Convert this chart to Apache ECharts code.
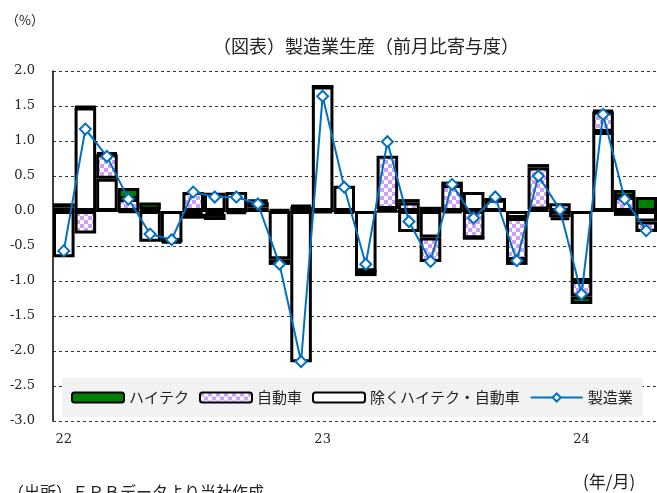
<!DOCTYPE html>
<html><head><meta charset="utf-8">
<script src="https://cdn.jsdelivr.net/npm/echarts@6/dist/echarts.min.js"></script>
<style>html,body{margin:0;padding:0;background:#fff}#c{width:657px;height:493px}</style>
</head><body><div id="c"></div>
<script>
const categories = ['2022/01','2022/02','2022/03','2022/04','2022/05','2022/06','2022/07','2022/08','2022/09','2022/10','2022/11','2022/12',
  '2023/01','2023/02','2023/03','2023/04','2023/05','2023/06','2023/07','2023/08','2023/09','2023/10','2023/11','2023/12',
  '2024/01','2024/02','2024/03','2024/04'];
const yearLabels = ['22','23','24'];
const hitech = [0.06,0.01,0.02,0.16,0.10,-0.03,-0.07,-0.09,-0.03,0.03,0.02,0.02,-0.03,-0.02,-0.07,-0.01,0.05,0.06,0.05,0.00,0.01,-0.07,0.05,-0.04,-0.11,0.02,0.10,0.20];
const auto = [0.05,-0.32,0.35,0.17,0.02,0.00,0.27,-0.04,-0.01,0.08,-0.08,0.06,0.00,-0.01,0.00,0.76,0.12,-0.35,0.37,-0.39,0.00,-0.60,0.60,0.11,-0.22,0.29,0.20,-0.15];
const other = [-0.66,1.48,0.46,-0.02,-0.44,-0.43,-0.04,0.26,0.27,0.05,-0.69,-2.16,1.78,0.36,-0.86,0.03,-0.30,-0.38,-0.03,0.27,0.16,-0.10,0.02,-0.09,-1.00,1.13,-0.07,-0.15];
const total = [-0.57,1.17,0.78,0.17,-0.33,-0.41,0.27,0.20,0.20,0.10,-0.76,-2.15,1.64,0.34,-0.76,0.99,-0.15,-0.72,0.38,-0.10,0.20,-0.71,0.50,0.02,-1.19,1.38,0.17,-0.28];
const yTicks = ['-3.0','-2.5','-2.0','-1.5','-1.0','-0.5','0.0','0.5','1.0','1.5','2.0'];

const pc = document.createElement('canvas');
pc.width = 8; pc.height = 8;
const g = pc.getContext('2d');
g.fillStyle = '#ffffff'; g.fillRect(0,0,8,8);
g.fillStyle = '#cf9ff5'; g.fillRect(0,0,4,4); g.fillRect(4,4,4,4);

const CJK = '"Noto Sans CJK JP", sans-serif';
const SERIF = '"DejaVu Serif", "Liberation Serif", serif';
const chart = echarts.init(document.getElementById('c'), null, {renderer:'canvas'});
const barBase = {type:'bar', stack:'s', barCategoryGap:'0%', barGap:'0%'};
chart.setOption({
  animation:false,
  title:{text:'（図表）製造業生産（前月比寄与度）', left:208, top:32,
    textStyle:{fontFamily:CJK, fontSize:18, fontWeight:'normal', color:'#222'}},
  graphic:[
    {type:'text', left:6, top:14, style:{text:'（%）', font:'13px '+CJK, fill:'#222'}},
    {type:'text', left:583, top:473, style:{text:'(年/月)', font:'17px '+CJK, fill:'#222'}},
    {type:'text', left:8, top:484, style:{text:'（出所）ＦＲＢデータより当社作成', font:'16px '+CJK, fill:'#222'}}
  ],
  legend:{left:62, top:378, padding:[12,10,12,9], backgroundColor:'#f2f2f2',
    itemWidth:52, itemHeight:10, itemGap:10,
    textStyle:{fontFamily:CJK, fontSize:15, color:'#222'},
    data:['ハイテク','自動車','除くハイテク・自動車','製造業']},
  grid:{left:53, right:0, top:71, bottom:72},
  xAxis:{type:'category', data:categories, boundaryGap:true,
    axisLine:{show:false}, axisTick:{show:false},
    axisLabel:{interval:0, margin:12, fontFamily:SERIF, fontSize:13, color:'#222',
      formatter:(v,i)=> (i%12===0 ? yearLabels[i/12] : '')}},
  yAxis:{type:'value', min:-3, max:2, interval:0.5,
    axisLine:{show:true, lineStyle:{color:'#000', width:1.5}},
    axisTick:{show:false},
    axisLabel:{margin:18, fontFamily:SERIF, fontSize:13, color:'#222',
      formatter:(v)=> yTicks[Math.round((v+3)/0.5)]},
    splitLine:{show:true, lineStyle:{color:'#333', width:1, type:[3,3]}}},
  series:[
    Object.assign({}, barBase, {name:'除くハイテク・自動車', data:other,
      itemStyle:{color:'#ffffff', borderColor:'#000', borderWidth:3}}),
    Object.assign({}, barBase, {name:'自動車', data:auto,
      itemStyle:{color:{image:pc, repeat:'repeat'}, borderColor:'#000', borderWidth:3}}),
    Object.assign({}, barBase, {name:'ハイテク', data:hitech,
      itemStyle:{color:'#008000', borderColor:'#000', borderWidth:3}}),
    {name:'製造業', type:'line', data:total, z:5,
      symbol:'diamond', symbolSize:11, showAllSymbol:true,
      lineStyle:{color:'#0070c0', width:2},
      itemStyle:{color:'#ffffff', borderColor:'#0070c0', borderWidth:2},
      markLine:{silent:true, symbol:'none', label:{show:false}, z:1,
        lineStyle:{color:'#000', width:1, type:'solid'}, data:[{yAxis:0}]}}
  ]
});
</script></body></html>
